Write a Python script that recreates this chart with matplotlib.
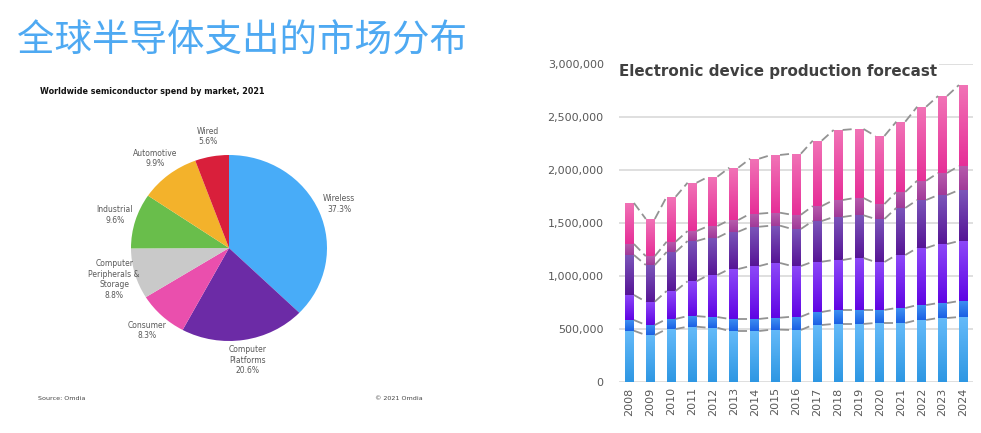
import numpy as np
import matplotlib
matplotlib.use("Agg")
import matplotlib.pyplot as plt
from matplotlib.colors import LinearSegmentedColormap

# ---- pie data ----
pie_labels = ["Wireless", "Computer\nPlatforms", "Consumer", "Computer\nPeripherals &\nStorage",
              "Industrial", "Automotive", "Wired"]
pie_share = [37.3, 20.6, 8.3, 8.8, 9.6, 9.9, 5.6]
pie_colors = ["#48acf8", "#6c2ba6", "#ea4fad", "#c9c9c9", "#69be4b", "#f3b22b", "#d91f3b"]

# ---- bar data (units) ----
years = [str(y) for y in range(2008, 2025)]
light_blue = [481e3, 440e3, 497e3, 519e3, 509e3, 478e3, 478e3, 491e3, 488e3,
              535e3, 545e3, 545e3, 554e3, 554e3, 582e3, 601e3, 610e3]
blue = [101e3, 95e3, 95e3, 100e3, 101e3, 114e3, 114e3, 113e3, 125e3,
        123e3, 132e3, 132e3, 123e3, 141e3, 141e3, 141e3, 151e3]
violet = [236e3, 220e3, 264e3, 328e3, 397e3, 471e3, 499e3, 516e3, 478e3,
          474e3, 471e3, 490e3, 452e3, 500e3, 538e3, 557e3, 566e3]
dark_purple = [377e3, 346e3, 368e3, 380e3, 352e3, 352e3, 371e3, 352e3, 350e3,
               384e3, 406e3, 403e3, 406e3, 444e3, 453e3, 462e3, 481e3]
mauve = [104e3, 83e3, 97e3, 94e3, 110e3, 110e3, 123e3, 122e3, 134e3,
         141e3, 160e3, 163e3, 141e3, 151e3, 182e3, 208e3, 227e3]
pink = [387e3, 351e3, 424e3, 456e3, 465e3, 494e3, 519e3, 545e3, 576e3,
        617e3, 661e3, 651e3, 642e3, 663e3, 698e3, 726e3, 764e3]

series = [light_blue, blue, violet, dark_purple, mauve, pink]
# (top colour, bottom colour) of each segment's gradient
seg_colors = [("#64baf9", "#2e97e3"), ("#3f90f2", "#1b60e4"), ("#8d48f8", "#5f05e4"),
              ("#7b55b9", "#561596"), ("#b65cad", "#a13a98"), ("#f173b6", "#e62f98")]

plt.rcParams["font.family"] = ["DejaVu Sans"]
fig = plt.figure(figsize=(9.81, 4.33), dpi=100)

# ---- headline ----
fig.text(17 / 981, 1 - 41 / 433, "全球半导体支出的市场分布", fontsize=27,
         family=["Noto Sans CJK SC", "DejaVu Sans"], weight="light",
         color="#4ea9f2", ha="left", va="center")

fig.text(40 / 981, 1 - 92 / 433, "Worldwide semiconductor spend by market, 2021",
         fontsize=5.8, weight="bold", color="#111111", ha="left", va="center")
fig.text(38 / 981, 1 - 398 / 433, "Source: Omdia", fontsize=4.6, color="#444444",
         ha="left", va="center")
fig.text(375 / 981, 1 - 398 / 433, "© 2021 Omdia", fontsize=4.6, color="#444444",
         ha="left", va="center")

# ---- pie ----
cx, cy, rx, ry = 229, 248, 98, 93
pax = fig.add_axes([(cx - rx) / 981, 1 - (cy + ry) / 433, 2 * rx / 981, 2 * ry / 433])
labels = [f"{l}\n{v}%" for l, v in zip(pie_labels, pie_share)]
wedges, texts = pax.pie(pie_share, colors=pie_colors, startangle=90, counterclock=False,
                        labels=labels, labeldistance=1.22,
                        textprops=dict(fontsize=5.5, color="#595959"))
for t in texts:
    t.set_ha("center")
    t.set_va("center")
    t.set_multialignment("center")
pax.set_aspect("auto")
pax.set_xlim(-1, 1)
pax.set_ylim(-1, 1)
pax.axis("off")

# ---- stacked bars ----
ax = fig.add_axes([619 / 981, 1 - 381.7 / 433, 354 / 981, 318 / 433])
x = np.arange(len(years))
w = 0.43
bottom = np.zeros(len(years))
for vals, (ctop, cbot) in zip(series, seg_colors):
    vals = np.array(vals)
    bars = ax.bar(x, vals, w, bottom=bottom, color=cbot, zorder=2)
    cmap = LinearSegmentedColormap.from_list("g", [cbot, ctop])
    grad = np.linspace(0, 1, 64).reshape(-1, 1)
    for p in bars:
        im = ax.imshow(grad, cmap=cmap, aspect="auto", origin="lower", zorder=2.1,
                       extent=(p.get_x(), p.get_x() + p.get_width(),
                               p.get_y(), p.get_y() + p.get_height()))
        im.set_clip_path(p)
    bottom = bottom + vals
    # series lines between bars
    for i in range(len(years) - 1):
        ax.plot([x[i] + w / 2, x[i + 1] - w / 2], [bottom[i], bottom[i + 1]],
                color="#939393", lw=1.3, ls=(0, (5, 2.5)), zorder=3)

ax.set_xlim(-0.5, 16.46)
ax.set_ylim(0, 3_000_000)
ax.set_yticks(np.arange(0, 3_000_001, 500_000))
ax.yaxis.set_major_formatter(matplotlib.ticker.FuncFormatter(lambda v, _: f"{v:,.0f}"))
ax.set_xticks(x)
ax.set_xticklabels(years, rotation=90)
ax.tick_params(axis="both", length=0, labelsize=8, labelcolor="#595959")
ax.tick_params(axis="y", pad=11)
ax.tick_params(axis="x", pad=4)
ax.grid(axis="y", color="#d9d9d9", lw=1.2, zorder=0)
ax.set_axisbelow(True)
for s in ax.spines.values():
    s.set_visible(False)

ax.text(-0.52, 2_925_000, "Electronic device production forecast", fontsize=10.9,
        weight="bold", color="#404040", ha="left", va="center", zorder=5,
        bbox=dict(facecolor="white", edgecolor="none", pad=1.5))

fig.savefig("out.png", dpi=100)
